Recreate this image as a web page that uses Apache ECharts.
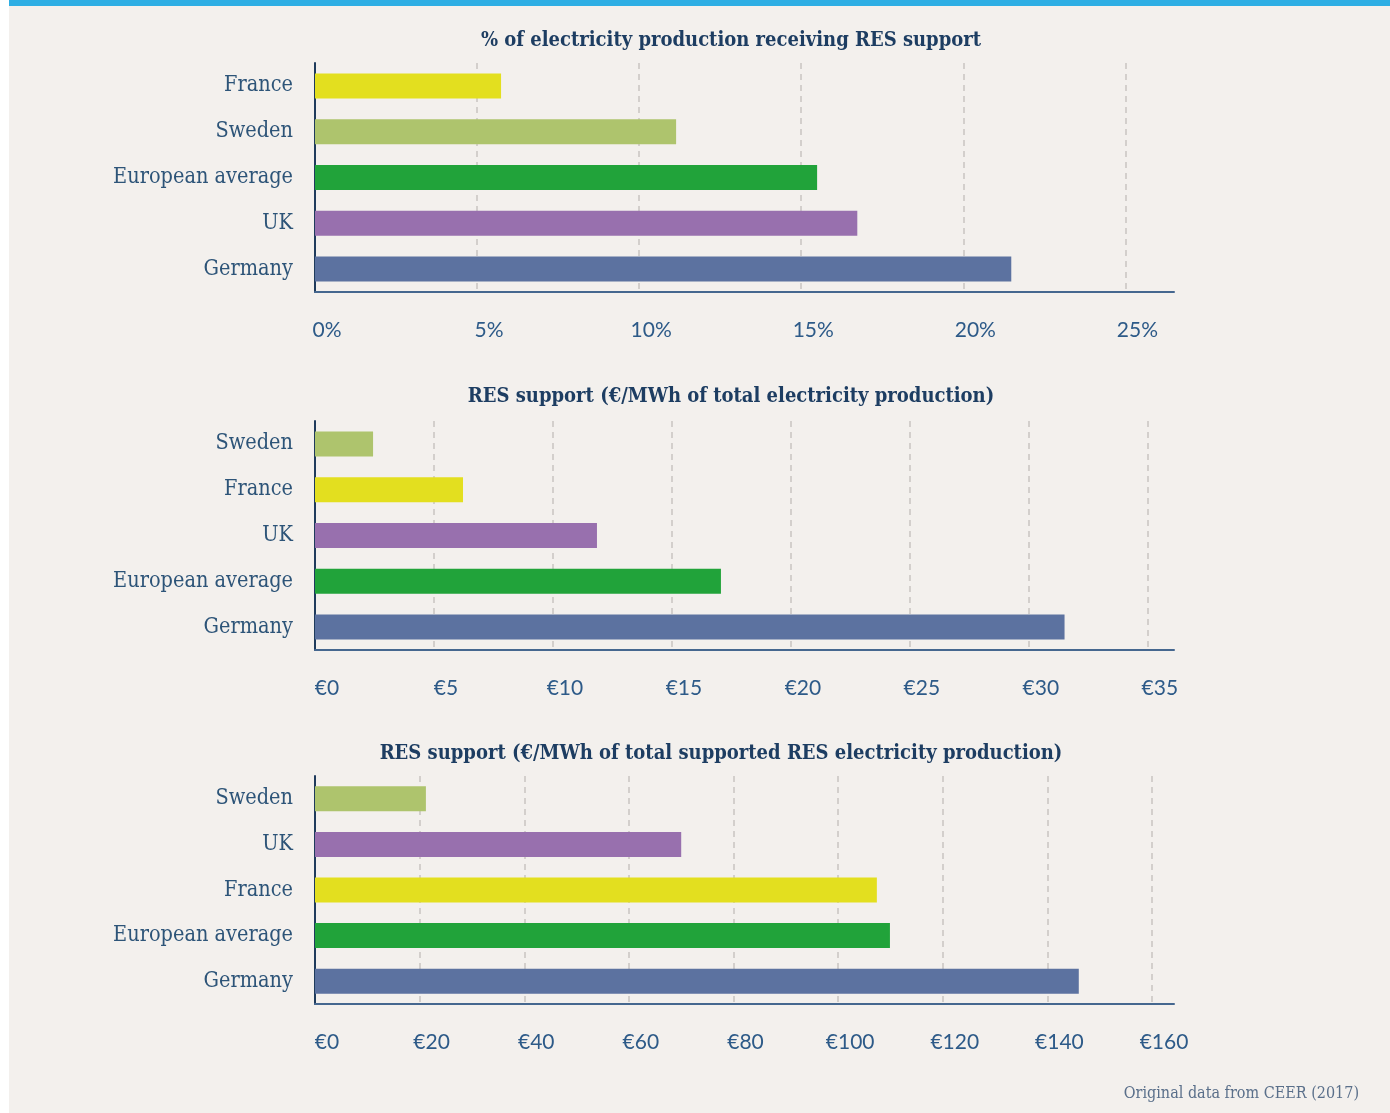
<!DOCTYPE html>
<html>
<head>
<meta charset="utf-8">
<script src="https://cdn.jsdelivr.net/npm/echarts@6/dist/echarts.min.js"></script>
<style>
  html, body { margin: 0; padding: 0; background: #ffffff; width: 1390px; height: 1113px; overflow: hidden; }
  #bg { position: absolute; left: 9px; top: 0; right: 0; bottom: 0; background: #f3f0ed; border-top: 6px solid #2eaee4; }
  #chart { position: absolute; left: 0; top: 0; width: 1390px; height: 1113px; }
</style>
</head>
<body>
<div id="bg"></div>
<div id="chart"></div>
<script>
// ---- Data ----
const titles = [
  '% of electricity production receiving RES support',
  'RES support (€/MWh of total electricity production)',
  'RES support (€/MWh of total supported RES electricity production)'
];
const cat1 = ['France', 'Sweden', 'European average', 'UK', 'Germany'];
const val1 = [5.74, 11.14, 15.49, 16.73, 21.48];
const cat2 = ['Sweden', 'France', 'UK', 'European average', 'Germany'];
const val2 = [2.44, 6.22, 11.85, 17.06, 31.5];
const cat3 = ['Sweden', 'UK', 'France', 'European average', 'Germany'];
const val3 = [21.2, 70.0, 107.4, 109.9, 146.0];
const axisMax = [26.5, 36.1, 164.2];
const axisInterval = [5, 5, 20];
const labelFmt = ['{value}%', '€{value}', '€{value}'];
const sourceNote = 'Original data from CEER (2017)';

// ---- Styles ----
const colorOf = {
  'France': '#e3df1f',
  'Sweden': '#aec46d',
  'European average': '#21a33a',
  'UK': '#9870ae',
  'Germany': '#5c72a0'
};
const serif = '"DejaVu Serif Condensed", "DejaVu Serif", serif';
const grids = [
  { left: 315, width: 859, top: 63, height: 229 },
  { left: 315, width: 859, top: 421, height: 229 },
  { left: 315, width: 859, top: 776, height: 228 }
];
const titleTops = [26, 382, 739];
const titleCenters = [726, 726, 716];
const cats = [cat1, cat2, cat3];
const vals = [val1, val2, val3];

const chart = echarts.init(document.getElementById('chart'), null, { renderer: 'canvas' });

const option = {
  backgroundColor: 'transparent',
  animation: false,
  title: titles.map((t, i) => ({
    text: t,
    left: titleCenters[i],
    top: titleTops[i],
    textAlign: 'center',
    textStyle: { fontFamily: serif, fontWeight: 'bold', fontSize: 20, color: '#1d3d62' }
  })).concat([{
    text: sourceNote,
    right: 26,
    top: 1081,
    textStyle: { fontFamily: serif, fontWeight: 'normal', fontSize: 16, color: '#5a6f8a' }
  }]),
  grid: grids,
  xAxis: grids.map((g, i) => ({
    type: 'value',
    gridIndex: i,
    min: 0,
    max: axisMax[i],
    interval: axisInterval[i],
    axisLine: { show: true, lineStyle: { color: '#45678f', width: 2 } },
    axisTick: { show: false },
    axisLabel: {
      formatter: labelFmt[i],
      showMaxLabel: false,
      fontFamily: 'Lato',
      fontSize: 21,
      color: '#2d5a88',
      margin: 28,
      padding: [0, 0, 0, 24]
    },
    splitLine: {
      show: true,
      showMinLine: false,
      showMaxLine: false,
      lineStyle: { color: '#d3cfcc', width: 2, type: [6, 5] }
    }
  })),
  yAxis: grids.map((g, i) => ({
    type: 'category',
    gridIndex: i,
    data: cats[i],
    inverse: true,
    axisLine: { show: true, lineStyle: { color: '#1f3b5c', width: 2 } },
    axisTick: { show: false },
    axisLabel: { fontFamily: serif, fontSize: 21.5, color: '#2d5478', margin: 22 },
    splitLine: { show: false }
  })),
  series: vals.map((v, i) => ({
    type: 'bar',
    xAxisIndex: i,
    yAxisIndex: i,
    barWidth: 25,
    data: v.map((x, j) => ({ value: x, itemStyle: { color: colorOf[cats[i][j]] } }))
  }))
};
chart.setOption(option);
</script>
</body>
</html>
